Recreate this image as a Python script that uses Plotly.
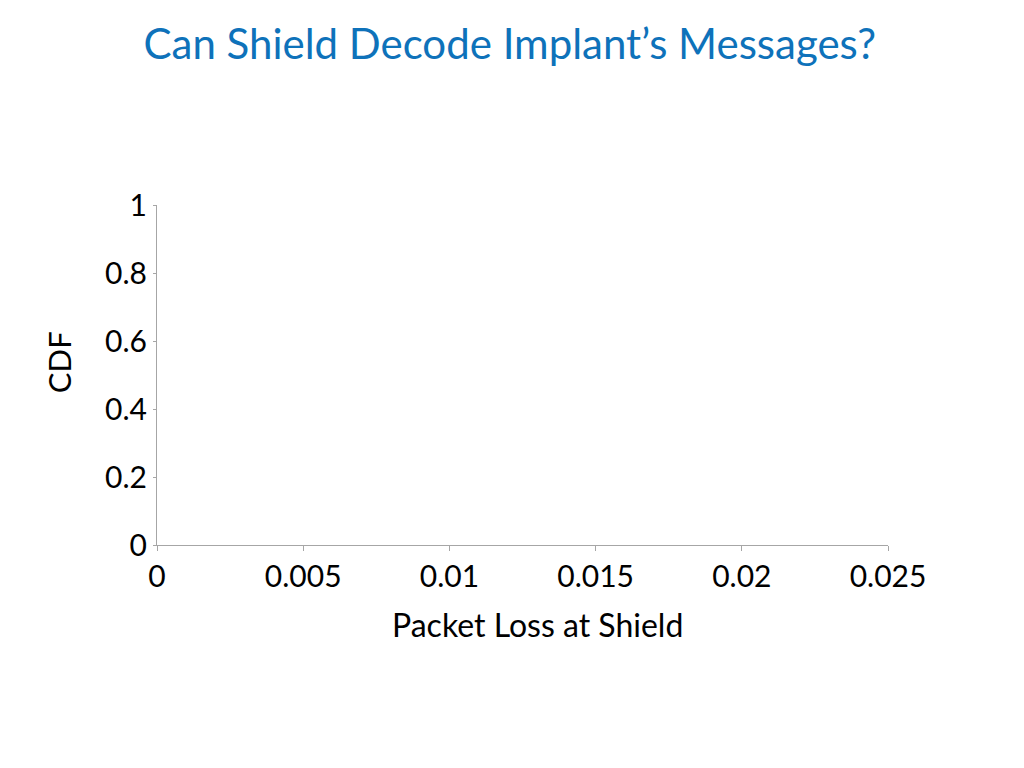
import plotly.graph_objects as go

# the reference shows empty axes: no series were plotted
packet_loss = []
cdf = []

x_ticks = [0, 0.005, 0.01, 0.015, 0.02, 0.025]
x_tick_labels = ["0", "0.005", "0.01", "0.015", "0.02", "0.025"]
y_ticks = [0, 0.2, 0.4, 0.6, 0.8, 1]
y_tick_labels = ["0", "0.2", "0.4", "0.6", "0.8", "1"]

font_family = "Lato, Carlito, 'Open Sans', sans-serif"
axis_grey = "#a6a6a6"
title_blue = "#0e72ba"

fig = go.Figure()
fig.add_trace(go.Scatter(x=packet_loss, y=cdf, mode="lines",
                         line=dict(color=title_blue, width=2), showlegend=False))

fig.update_layout(
    width=1024,
    height=768,
    paper_bgcolor="white",
    plot_bgcolor="white",
    # page body adds 8px on the left/top, so the margins are shifted by that
    margin=dict(l=149, r=144, t=197, b=231),
    font=dict(family=font_family, color="black", size=30),
    title=dict(
        text="Can Shield Decode Implant’s Messages?",
        font=dict(family=font_family, size=42, color=title_blue),
        x=0.49, xanchor="center", xref="container",
        y=0.953, yanchor="middle", yref="container",
    ),
    showlegend=False,
    annotations=[
        dict(text="Packet Loss at Shield", xref="paper", yref="paper",
             x=0.52, y=-0.235, xanchor="center", yanchor="middle",
             showarrow=False, font=dict(size=32)),
        dict(text="CDF", xref="paper", yref="paper",
             x=-0.134, y=0.538, xanchor="center", yanchor="middle",
             textangle=-90, showarrow=False, font=dict(size=31)),
    ],
)

fig.update_xaxes(
    range=[0, 0.025],
    tickvals=x_ticks,
    ticktext=x_tick_labels,
    ticks="outside", ticklen=5, tickcolor=axis_grey, tickwidth=1,
    showline=True, linecolor=axis_grey, linewidth=1,
    showgrid=False, zeroline=False,
    tickfont=dict(size=30),
)
fig.update_yaxes(
    range=[0, 1],
    tickvals=y_ticks,
    ticktext=y_tick_labels,
    ticks="outside", ticklen=3, tickcolor=axis_grey, tickwidth=1,
    showline=True, linecolor=axis_grey, linewidth=1,
    showgrid=False, zeroline=False,
    tickfont=dict(size=30),
)

fig.write_html("out.html")
